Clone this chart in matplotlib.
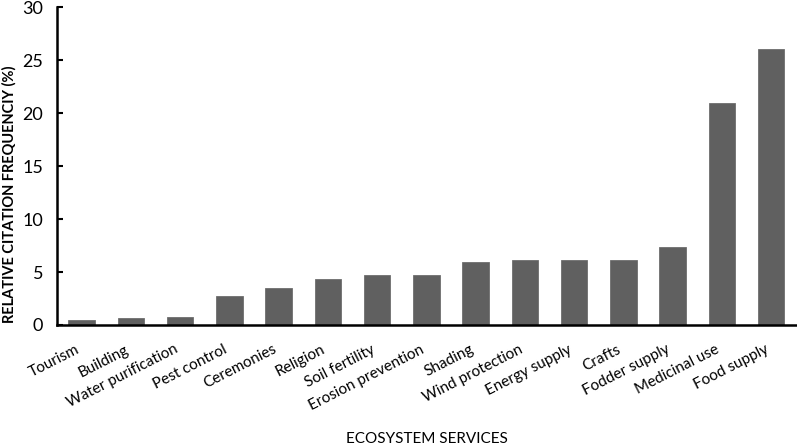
import matplotlib
matplotlib.use("Agg")
import matplotlib.pyplot as plt

categories = ["Tourism", "Building", "Water purification", "Pest control", "Ceremonies",
              "Religion", "Soil fertility", "Erosion prevention", "Shading", "Wind protection",
              "Energy supply", "Crafts", "Fodder supply", "Medicinal use", "Food supply"]
values = [0.5, 0.65, 0.75, 2.7, 3.45, 4.35, 4.7, 4.7, 5.9, 6.1, 6.1, 6.1, 7.4, 20.95, 26.05]
yticks = [0, 5, 10, 15, 20, 25, 30]

plt.rcParams['font.family'] = ['Lato', 'DejaVu Sans']

fig = plt.figure(figsize=(7.97, 4.45), dpi=100)
ax = fig.add_axes([0.0715, 0.2697, 0.927, 0.7143])

x = list(range(len(categories)))
ax.bar(x, values, width=0.54, color="#606060", edgecolor="#6e6e6e", linewidth=0.6)

ax.set_xlim(-0.5, len(categories) - 0.5)
ax.set_ylim(0, 30)
ax.set_yticks(yticks)
ax.set_yticklabels([str(t) for t in yticks], fontsize=13)
ax.set_xticks(x)
ax.set_xticklabels(categories, rotation=27, ha="right", va="top",
                   rotation_mode="default", fontsize=11)
ax.tick_params(axis="x", length=0, pad=12.5)
ax.tick_params(axis="y", direction="in", length=4, width=1.5, pad=10)

for s in ["top", "right"]:
    ax.spines[s].set_visible(False)
for s in ["left", "bottom"]:
    ax.spines[s].set_linewidth(1.8)
    ax.spines[s].set_color("black")

fig.text(9 / 797, 1 - 194 / 445, "RELATIVE CITATION FREQUENCIY (%)", rotation=90,
         ha="center", va="center", fontsize=10.5, fontweight="bold")
fig.text(427 / 797, 2 / 445, "ECOSYSTEM SERVICES", ha="center", va="baseline", fontsize=11)

fig.savefig("out.png", dpi=100)
